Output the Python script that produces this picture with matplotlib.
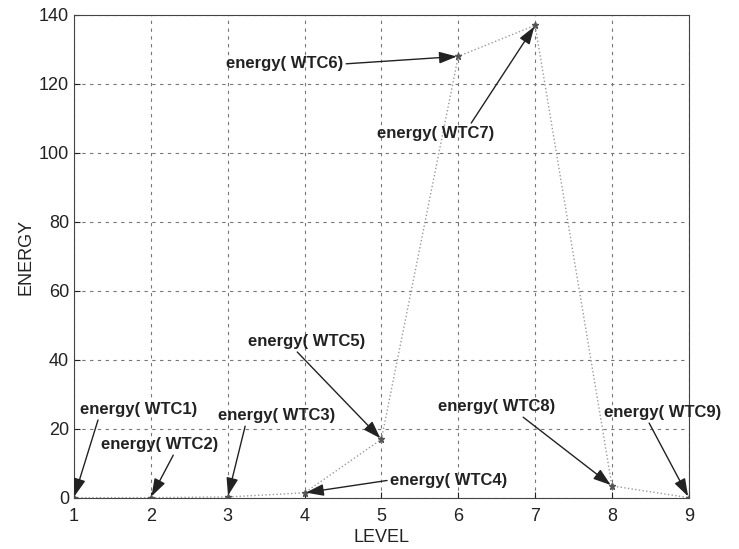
import matplotlib
matplotlib.use('Agg')
import matplotlib.pyplot as plt

plt.rcParams['font.family'] = ['Liberation Sans', 'DejaVu Sans']

level = [1, 2, 3, 4, 5, 6, 7, 8, 9]
energy = [0.1, 0.1, 0.3, 1.5, 17, 128, 137, 3.5, 0.1]
labels = ['energy( WTC%d)' % i for i in level]
text_pos = [(1.08, 25.6), (1.35, 15.4), (2.87, 23.8), (5.11, 5.2), (3.26, 45.3),
            (2.98, 125.8), (4.94, 105.7), (5.73, 26.4), (7.9, 24.7)]
relpos = [(0.16, 0), (0.63, 0), (0.24, 0), (0, 0.5), (0.4, 0),
          (1, 0.5), (0.79, 1), (0.7, 0), (0.37, 0)]

fig = plt.figure(figsize=(7.39, 5.49), dpi=100)
ax = fig.add_axes([0.1001, 0.0929, 0.832, 0.8798])

ax.plot(level, energy, color='#9a9a9a', lw=1, ls=':', marker='*', ms=5,
        mec='#555555', mfc='#555555')

for i in range(len(level)):
    ax.annotate(labels[i], xy=(level[i], energy[i]), xytext=text_pos[i],
                ha='left', va='center', fontsize=12, fontweight='bold',
                color='#222222',
                arrowprops=dict(arrowstyle='-|>,head_length=0.9,head_width=0.3',
                                color='#222222', lw=1, relpos=relpos[i],
                                shrinkA=0, shrinkB=1))

ax.set_xlim(1, 9)
ax.set_ylim(0, 140)
ax.set_xticks(range(1, 10))
ax.set_yticks(range(0, 141, 20))
ax.grid(True, ls=(0, (3, 4)), color='#777777', lw=0.8)
ax.tick_params(labelsize=13, direction='in', length=4, colors='#222222')
ax.tick_params(axis='x', pad=7)
ax.set_xlabel('LEVEL', fontsize=13, color='#222222', labelpad=3)
ax.set_ylabel('ENERGY', fontsize=13, color='#222222', labelpad=3)
for s in ax.spines.values():
    s.set_color('#444444')
    s.set_linewidth(0.8)

fig.savefig('out.png', dpi=100)
